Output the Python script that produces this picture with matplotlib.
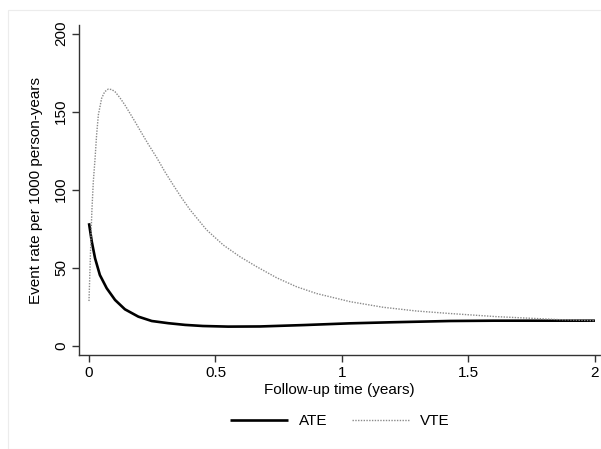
import matplotlib
matplotlib.use("Agg")
import matplotlib.pyplot as plt
from matplotlib.patches import Rectangle

plt.rcParams['font.family'] = ['Liberation Sans', 'DejaVu Sans']

# Data (years, events per 1000 person-years)
ate_x = [0.0, 0.011, 0.024, 0.043, 0.070, 0.103, 0.142, 0.195, 0.248, 0.313, 0.38, 0.45, 0.55,
         0.676, 0.85, 1.03, 1.2, 1.427, 1.6, 1.8, 2.0]
ate_y = [78.5, 66.7, 56.0, 45.3, 36.8, 29.3, 23.3, 18.6, 15.8, 14.4, 13.3, 12.6, 12.2,
         12.3, 13.2, 14.3, 15.0, 15.8, 16.0, 16.0, 16.0]

vte_x = [0.0, 0.006, 0.011, 0.017, 0.024, 0.030, 0.037, 0.050, 0.062, 0.076, 0.090, 0.103, 0.122,
         0.142, 0.182, 0.202, 0.235, 0.268, 0.300, 0.333, 0.366, 0.40, 0.465, 0.531, 0.597, 0.663,
         0.742, 0.82, 0.90, 1.032, 1.163, 1.295, 1.427, 1.61, 1.87, 2.0]
vte_y = [28.6, 60.0, 85.0, 105.0, 120.0, 135.0, 148.0, 158.6, 162.8, 164.5, 164.2, 162.8, 159.0,
         154.3, 143.6, 138.0, 129.0, 120.5, 111.5, 103.0, 94.8, 87.0, 74.2, 64.5, 57.0, 50.6,
         43.5, 37.8, 33.4, 28.2, 24.6, 22.2, 20.6, 18.6, 16.6, 16.0]

xticks = [0, 0.5, 1, 1.5, 2]
xticklabels = ["0", "0.5", "1", "1.5", "2"]
yticks = [0, 50, 100, 150, 200]

fig = plt.figure(figsize=(6.01, 4.49), dpi=100)
fig.patch.set_facecolor('white')
# faint outer frame
fig.add_artist(Rectangle((8/601, 0), 1 - 8/601, 1 - 10/449, transform=fig.transFigure,
                         fill=False, edgecolor='#ececec', linewidth=0.8))

ax = fig.add_axes([79/601, 1 - 355/449, 521/601, 330/449])
ax.plot(ate_x, ate_y, color='black', linewidth=1.9, solid_capstyle='butt',
        solid_joinstyle='round', label='ATE')
ax.plot(vte_x, vte_y, color='#8a8a8a', linewidth=1.0, linestyle=(0, (1, 1)), label='VTE')

ax.set_xlim(-0.0395, 2.02)
ax.set_ylim(-6, 205.6)
ax.spines['top'].set_visible(False)
ax.spines['right'].set_visible(False)
for s in ['left', 'bottom']:
    ax.spines[s].set_color('#333333')
    ax.spines[s].set_linewidth(1.0)

ax.set_xticks(xticks)
ax.set_xticklabels(xticklabels)
ax.set_yticks(yticks)
ax.set_yticklabels([str(v) for v in yticks], rotation=90, va='center')
ax.tick_params(axis='both', length=5, width=1.0, color='#333333', labelsize=11, pad=3)
ax.set_xlabel("Follow-up time (years)", fontsize=11, labelpad=2)
ax.set_ylabel("Event rate per 1000 person-years", fontsize=11, labelpad=8)

fig.legend(loc='center', bbox_to_anchor=(340/601, 1 - 421/449), ncol=2, frameon=False,
           fontsize=11, handlelength=3.8, handletextpad=0.7, columnspacing=1.6)

fig.savefig("out.png", dpi=100, facecolor='white')
